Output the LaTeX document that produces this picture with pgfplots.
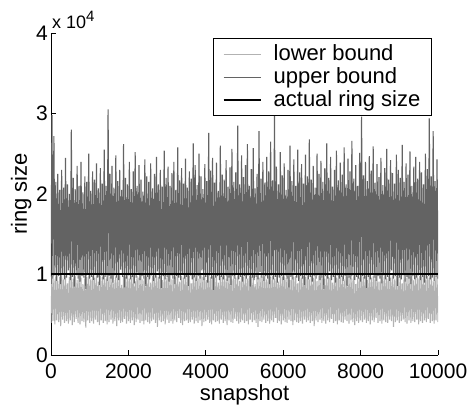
\documentclass[border=0pt]{standalone}
\usepackage{fontspec}
\setmainfont{Liberation Sans}
\usepackage{pgfplots}
\pgfplotsset{compat=1.18}
\definecolor{lowc}{gray}{0.70}
\definecolor{upc}{gray}{0.39}
\begin{document}
\fontsize{21bp}{25bp}\selectfont
\begin{tikzpicture}
\path[use as bounding box] (-51bp,-50bp) rectangle (420bp,355bp);
\begin{axis}[
 at={(0,0)}, anchor=south west,
 scale only axis, width=387bp, height=322bp,
 xmin=0, xmax=10000, ymin=0, ymax=4,
 axis x line*=bottom, axis y line*=left,
 axis line style={line width=0.8bp},
 xtick={0,2000,4000,6000,8000,10000}, ytick={0,1,2,3,4},
 tick align=inside, major tick length=5bp,
 tick style={line width=0.8bp, black},
 /pgf/number format/assume math mode=true,
 /pgf/number format/set thousands separator={},
 scaled x ticks=false,
 ticklabel style={font=\fontsize{21bp}{25bp}\selectfont},
 xticklabel style={anchor=north, inner sep=0pt, yshift=-9bp},
 yticklabel style={anchor=east, inner sep=0pt, xshift=-3bp},
 xlabel={snapshot}, ylabel={ring size},
 label style={font=\fontsize{22bp}{26bp}\selectfont, inner sep=0pt},
 xlabel style={at={(axis description cs:0.5,-0.090)}, anchor=north},
 ylabel style={at={(axis description cs:-0.050,0.5)}, anchor=south},
 legend style={at={(axis description cs:0.984,0.984)}, anchor=north east,
   draw=black, line width=0.8bp, fill=white, font=\fontsize{22bp}{27bp}\selectfont,
   row sep=0bp, inner xsep=9bp, inner ysep=4bp, nodes={inner sep=2bp},
   /tikz/column 1/.style={column sep=10bp}, cells={anchor=west}},
 legend image code/.code={\draw[#1] (0bp,0bp) -- (37bp,0bp);},
]
\addplot[lowc, line width=1.1bp] table[x expr=\coordindex*25, y index=0, header=false, row sep=\\] {
0.40\\ 0.98\\ 0.42\\ 0.95\\ 0.38\\ 0.99\\ 0.43\\ 0.92\\ 0.41\\ 0.97\\ 0.36\\ 0.99\\ 0.44\\ 0.94\\ 0.40\\ 0.98\\ 0.42\\ 0.89\\ 0.39\\ 0.97\\
0.43\\ 0.99\\ 0.37\\ 0.95\\ 0.41\\ 0.98\\ 0.45\\ 0.93\\ 0.40\\ 0.99\\ 0.38\\ 0.96\\ 0.42\\ 0.88\\ 0.41\\ 0.98\\ 0.34\\ 0.97\\ 0.43\\ 0.99\\
0.40\\ 0.94\\ 0.42\\ 0.98\\ 0.39\\ 0.96\\ 0.44\\ 0.99\\ 0.41\\ 0.91\\ 0.37\\ 0.98\\ 0.43\\ 0.97\\ 0.40\\ 0.99\\ 0.42\\ 0.95\\ 0.38\\ 0.98\\
0.41\\ 0.97\\ 0.44\\ 0.99\\ 0.39\\ 0.93\\ 0.42\\ 0.98\\ 0.36\\ 0.96\\ 0.43\\ 0.99\\ 0.40\\ 0.87\\ 0.41\\ 0.98\\ 0.45\\ 0.97\\ 0.39\\ 0.99\\
0.42\\ 0.95\\ 0.40\\ 0.98\\ 0.43\\ 0.99\\ 0.37\\ 0.92\\ 0.41\\ 0.98\\ 0.44\\ 0.96\\ 0.40\\ 0.99\\ 0.42\\ 0.94\\ 0.38\\ 0.98\\ 0.43\\ 0.97\\
0.41\\ 0.99\\ 0.39\\ 0.90\\ 0.42\\ 0.98\\ 0.44\\ 0.96\\ 0.40\\ 0.99\\ 0.35\\ 0.97\\ 0.43\\ 0.98\\ 0.41\\ 0.93\\ 0.42\\ 0.99\\ 0.38\\ 0.96\\
0.44\\ 0.98\\ 0.40\\ 0.99\\ 0.42\\ 0.94\\ 0.39\\ 0.98\\ 0.43\\ 0.97\\ 0.41\\ 0.99\\ 0.46\\ 0.91\\ 0.40\\ 0.98\\ 0.37\\ 0.96\\ 0.42\\ 0.99\\
0.43\\ 0.97\\ 0.40\\ 0.98\\ 0.41\\ 0.89\\ 0.44\\ 0.99\\ 0.39\\ 0.96\\ 0.42\\ 0.98\\ 0.40\\ 0.95\\ 0.43\\ 0.99\\ 0.36\\ 0.97\\ 0.41\\ 0.98\\
0.42\\ 0.93\\ 0.44\\ 0.99\\ 0.40\\ 0.97\\ 0.38\\ 0.98\\ 0.43\\ 0.96\\ 0.41\\ 0.99\\ 0.42\\ 0.90\\ 0.39\\ 0.98\\ 0.44\\ 0.97\\ 0.40\\ 0.99\\
0.42\\ 0.95\\ 0.37\\ 0.98\\ 0.43\\ 0.99\\ 0.41\\ 0.94\\ 0.40\\ 0.98\\ 0.45\\ 0.96\\ 0.42\\ 0.99\\ 0.39\\ 0.92\\ 0.41\\ 0.98\\ 0.43\\ 0.97\\
0.40\\ 0.99\\ 0.42\\ 0.95\\ 0.38\\ 0.98\\ 0.44\\ 0.97\\ 0.41\\ 0.99\\ 0.43\\ 0.88\\ 0.40\\ 0.98\\ 0.35\\ 0.96\\ 0.42\\ 0.99\\ 0.41\\ 0.97\\
0.44\\ 0.98\\ 0.40\\ 0.94\\ 0.42\\ 0.99\\ 0.39\\ 0.97\\ 0.43\\ 0.98\\ 0.41\\ 0.95\\ 0.46\\ 0.99\\ 0.40\\ 0.91\\ 0.42\\ 0.98\\ 0.38\\ 0.97\\
0.43\\ 0.99\\ 0.41\\ 0.96\\ 0.40\\ 0.98\\ 0.44\\ 0.93\\ 0.42\\ 0.99\\ 0.37\\ 0.97\\ 0.43\\ 0.98\\ 0.41\\ 0.89\\ 0.40\\ 0.99\\ 0.42\\ 0.96\\
0.39\\ 0.98\\ 0.44\\ 0.97\\ 0.41\\ 0.99\\ 0.43\\ 0.94\\ 0.40\\ 0.98\\ 0.42\\ 0.96\\ 0.36\\ 0.99\\ 0.43\\ 0.92\\ 0.41\\ 0.98\\ 0.44\\ 0.97\\
0.40\\ 0.99\\ 0.42\\ 0.95\\ 0.39\\ 0.98\\ 0.43\\ 0.97\\ 0.41\\ 0.99\\ 0.45\\ 0.90\\ 0.40\\ 0.98\\ 0.42\\ 0.96\\ 0.38\\ 0.99\\ 0.43\\ 0.97\\
0.41\\ 0.98\\ 0.40\\ 0.94\\ 0.44\\ 0.99\\ 0.42\\ 0.97\\ 0.39\\ 0.98\\ 0.43\\ 0.95\\ 0.41\\ 0.99\\ 0.37\\ 0.88\\ 0.42\\ 0.98\\ 0.40\\ 0.96\\
0.43\\ 0.99\\ 0.41\\ 0.97\\ 0.44\\ 0.98\\ 0.40\\ 0.93\\ 0.42\\ 0.99\\ 0.38\\ 0.96\\ 0.43\\ 0.98\\ 0.41\\ 0.97\\ 0.46\\ 0.99\\ 0.40\\ 0.91\\
0.42\\ 0.98\\ 0.39\\ 0.97\\ 0.43\\ 0.99\\ 0.41\\ 0.95\\ 0.40\\ 0.98\\ 0.44\\ 0.96\\ 0.42\\ 0.99\\ 0.35\\ 0.94\\ 0.41\\ 0.98\\ 0.43\\ 0.97\\
0.40\\ 0.99\\ 0.42\\ 0.89\\ 0.44\\ 0.98\\ 0.41\\ 0.96\\ 0.39\\ 0.99\\ 0.43\\ 0.97\\ 0.40\\ 0.98\\ 0.42\\ 0.93\\ 0.41\\ 0.99\\ 0.44\\ 0.96\\
0.38\\ 0.98\\ 0.42\\ 0.97\\ 0.40\\ 0.99\\ 0.43\\ 0.94\\ 0.41\\ 0.98\\ 0.45\\ 0.96\\ 0.40\\ 0.99\\ 0.42\\ 0.92\\ 0.39\\ 0.98\\ 0.43\\ 0.97\\
0.41\\
};
\addlegendentry{lower bound}
\addplot[upc, line width=1.1bp] table[x expr=\coordindex*25, y index=0, header=false, row sep=\\] {
0.97\\ 2.98\\ 0.95\\ 2.72\\ 0.99\\ 2.15\\ 0.92\\ 2.25\\ 0.98\\ 2.05\\ 0.88\\ 2.30\\ 1.00\\ 2.08\\ 0.94\\ 2.45\\ 0.96\\ 2.12\\ 1.05\\ 2.00\\
0.93\\ 2.80\\ 0.97\\ 2.20\\ 0.85\\ 2.06\\ 0.99\\ 2.35\\ 0.95\\ 2.10\\ 0.91\\ 2.40\\ 0.98\\ 2.02\\ 0.96\\ 2.22\\ 0.82\\ 2.15\\ 1.00\\ 2.50\\
0.95\\ 2.04\\ 0.97\\ 2.28\\ 0.93\\ 2.18\\ 1.02\\ 2.38\\ 0.96\\ 2.07\\ 0.87\\ 2.32\\ 0.99\\ 2.13\\ 0.94\\ 2.55\\ 0.97\\ 2.10\\ 0.92\\ 3.05\\
0.98\\ 2.25\\ 0.95\\ 2.35\\ 0.90\\ 2.08\\ 0.99\\ 2.48\\ 0.96\\ 2.16\\ 0.93\\ 2.30\\ 1.06\\ 2.05\\ 0.97\\ 2.62\\ 0.84\\ 2.20\\ 0.95\\ 2.12\\
0.99\\ 2.40\\ 0.94\\ 2.06\\ 0.97\\ 2.28\\ 0.89\\ 2.52\\ 0.96\\ 2.10\\ 1.00\\ 2.36\\ 0.93\\ 2.18\\ 0.98\\ 2.03\\ 0.95\\ 2.43\\ 0.86\\ 2.22\\
0.97\\ 2.15\\ 0.94\\ 2.38\\ 0.99\\ 2.07\\ 0.92\\ 2.25\\ 0.96\\ 2.46\\ 1.04\\ 2.12\\ 0.95\\ 2.30\\ 0.83\\ 2.09\\ 0.98\\ 2.54\\ 0.94\\ 2.20\\
0.97\\ 2.34\\ 0.91\\ 2.10\\ 0.99\\ 2.26\\ 0.95\\ 2.40\\ 0.88\\ 2.05\\ 0.98\\ 2.58\\ 0.96\\ 2.17\\ 0.93\\ 2.32\\ 1.00\\ 2.13\\ 0.95\\ 2.44\\
0.97\\ 2.08\\ 0.86\\ 2.28\\ 0.99\\ 2.19\\ 0.94\\ 2.63\\ 0.96\\ 2.36\\ 0.92\\ 2.11\\ 0.98\\ 2.50\\ 0.95\\ 2.22\\ 1.05\\ 2.06\\ 0.93\\ 2.37\\
0.97\\ 2.16\\ 0.90\\ 2.76\\ 0.99\\ 2.29\\ 0.95\\ 2.45\\ 0.81\\ 2.14\\ 0.96\\ 2.39\\ 0.98\\ 2.04\\ 0.93\\ 2.60\\ 0.97\\ 2.24\\ 0.94\\ 2.18\\
0.99\\ 2.42\\ 0.92\\ 2.09\\ 0.96\\ 2.33\\ 0.87\\ 2.56\\ 0.98\\ 2.15\\ 0.95\\ 2.27\\ 1.00\\ 2.85\\ 0.94\\ 2.12\\ 0.97\\ 2.48\\ 0.91\\ 2.21\\
0.98\\ 2.36\\ 0.95\\ 2.62\\ 0.99\\ 2.10\\ 0.85\\ 2.31\\ 0.96\\ 2.57\\ 0.93\\ 2.07\\ 0.97\\ 2.25\\ 0.94\\ 2.78\\ 1.03\\ 2.19\\ 0.96\\ 2.40\\
0.92\\ 2.14\\ 0.98\\ 2.46\\ 0.95\\ 2.28\\ 0.88\\ 2.65\\ 0.99\\ 2.17\\ 0.94\\ 2.97\\ 0.97\\ 2.34\\ 0.90\\ 2.12\\ 0.96\\ 2.52\\ 0.98\\ 2.23\\
0.93\\ 2.38\\ 0.99\\ 2.05\\ 0.95\\ 2.30\\ 0.84\\ 2.60\\ 0.97\\ 2.16\\ 0.94\\ 2.43\\ 1.02\\ 2.10\\ 0.96\\ 2.55\\ 0.92\\ 2.27\\ 0.98\\ 2.37\\
0.95\\ 2.13\\ 0.87\\ 2.49\\ 0.99\\ 2.22\\ 0.94\\ 2.68\\ 0.97\\ 2.18\\ 0.91\\ 2.35\\ 0.98\\ 2.08\\ 0.95\\ 2.50\\ 0.99\\ 2.25\\ 0.93\\ 2.41\\
0.96\\ 2.15\\ 0.82\\ 2.32\\ 0.98\\ 2.63\\ 0.95\\ 2.20\\ 1.04\\ 2.46\\ 0.93\\ 2.09\\ 0.97\\ 2.30\\ 0.90\\ 2.54\\ 0.99\\ 2.17\\ 0.95\\ 2.39\\
0.97\\ 2.24\\ 0.92\\ 2.58\\ 0.98\\ 2.12\\ 0.86\\ 2.44\\ 0.96\\ 2.28\\ 0.94\\ 2.66\\ 0.99\\ 2.19\\ 0.93\\ 2.36\\ 0.97\\ 2.10\\ 0.95\\ 2.51\\
0.91\\ 2.96\\ 0.98\\ 2.23\\ 0.95\\ 2.40\\ 0.83\\ 2.16\\ 0.97\\ 2.47\\ 0.94\\ 2.29\\ 1.00\\ 2.59\\ 0.96\\ 2.14\\ 0.92\\ 2.37\\ 0.98\\ 2.21\\
0.95\\ 2.45\\ 0.89\\ 2.11\\ 0.99\\ 2.32\\ 0.94\\ 2.56\\ 0.97\\ 2.18\\ 0.92\\ 2.42\\ 1.05\\ 2.26\\ 0.95\\ 2.13\\ 0.98\\ 2.49\\ 0.86\\ 2.30\\
0.96\\ 2.20\\ 0.94\\ 2.61\\ 0.99\\ 2.15\\ 0.91\\ 2.38\\ 0.97\\ 2.24\\ 0.95\\ 2.53\\ 0.88\\ 2.10\\ 0.98\\ 2.34\\ 0.94\\ 2.46\\ 0.96\\ 2.19\\
0.99\\ 2.40\\ 0.93\\ 2.27\\ 0.97\\ 2.12\\ 0.90\\ 2.50\\ 0.95\\ 2.31\\ 0.98\\ 2.94\\ 0.94\\ 2.22\\ 0.96\\ 2.78\\ 0.92\\ 2.16\\ 0.97\\ 2.43\\
0.95\\
};
\addlegendentry{upper bound}
\addplot[black, line width=2bp] coordinates {(0,1) (10000,1)};
\addlegendentry{actual ring size}
\end{axis}
\node[anchor=base west, inner sep=0pt, font=\fontsize{18bp}{21bp}\selectfont] at ([xshift=1bp,yshift=4bp]current axis.north west) {x 10\raisebox{7bp}{\fontsize{15bp}{17bp}\selectfont 4}};
\end{tikzpicture}
\end{document}
